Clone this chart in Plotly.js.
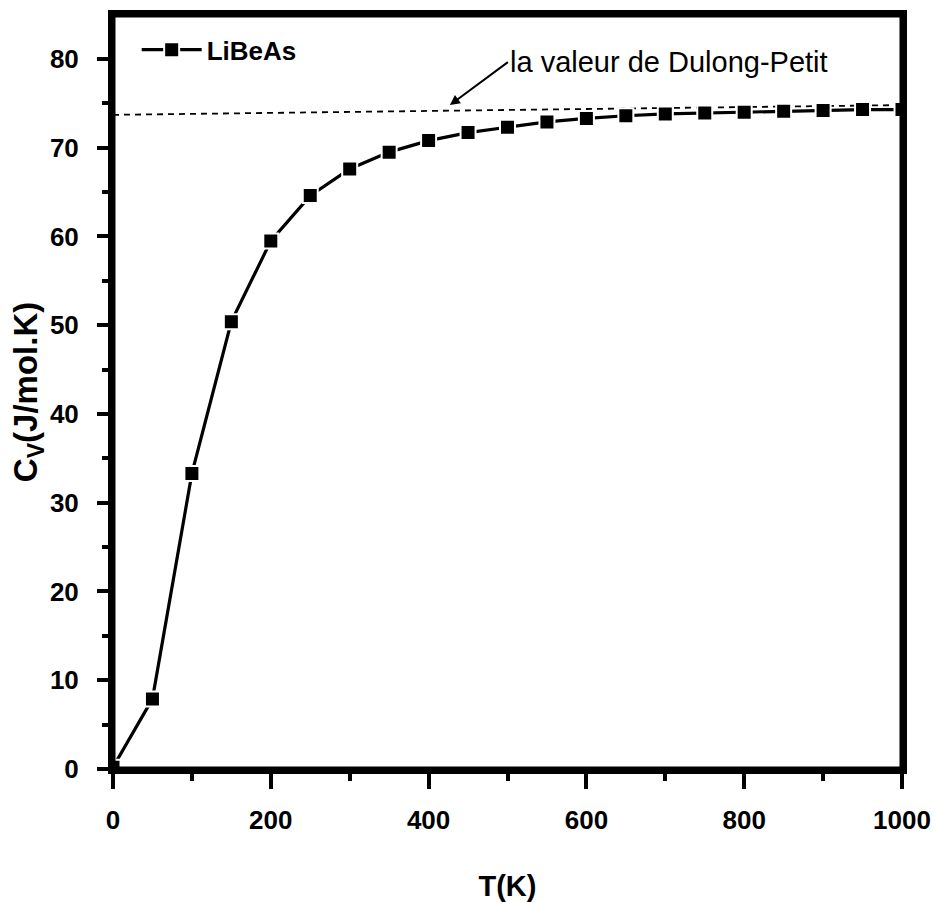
<!DOCTYPE html>
<html>
<head>
<meta charset="utf-8">
<script src="https://cdn.plot.ly/plotly-3.0.1.min.js"></script>
<style>html,body{margin:0;padding:0;background:#fff;}#chart{width:936px;height:902px;}</style>
</head>
<body>
<div id="chart"></div>
<script>
const temperature = [0, 50, 100, 150, 200, 250, 300, 350, 400, 450, 500, 550, 600, 650, 700, 750, 800, 850, 900, 950, 1000];
const cv = [0.2, 7.9, 33.3, 50.4, 59.5, 64.6, 67.6, 69.5, 70.8, 71.7, 72.3, 72.9, 73.3, 73.6, 73.8, 73.9, 74.0, 74.1, 74.2, 74.3, 74.3];
const dulongT = [0, 1000];
const dulongCv = [73.7, 74.8];
const seriesName = "LiBeAs";
const annotationText = "la valeur de Dulong-Petit";
const xTitle = "T(K)";
const yTitle = "C<sub>V</sub>(J/mol.K)";

const FONT = '"Liberation Sans", Arial, sans-serif';

const traces = [
  {
    x: dulongT, y: dulongCv, mode: 'lines', showlegend: false, hoverinfo: 'skip',
    line: {color: '#000', width: 1.8, dash: '6px,5px'}
  },
  {
    x: temperature, y: cv, mode: 'lines+markers', name: seriesName,
    line: {color: '#000', width: 3.2},
    marker: {symbol: 'square', size: 15, color: '#000', line: {color: '#fff', width: 2}}
  }
];

const axisCommon = {
  showline: true, linecolor: '#000', linewidth: 5, mirror: true,
  ticks: 'outside', tickwidth: 4, tickcolor: '#000',
  showgrid: false, zeroline: false,
  tickfont: {family: FONT, size: 26, color: '#000', weight: 'bold'}
};

const layout = {
  width: 936, height: 902,
  margin: {l: 113, r: 34, t: 15, b: 133},
  paper_bgcolor: '#fff', plot_bgcolor: '#fff',
  font: {family: FONT, color: '#000'},
  xaxis: Object.assign({}, axisCommon, {
    range: [0, 1000], dtick: 200, tick0: 0, ticklen: 15,
    minor: {dtick: 100, ticks: 'outside', ticklen: 7, tickwidth: 4, tickcolor: '#000', showgrid: false},
    ticklabelstandoff: 9,
    title: {text: xTitle, font: {family: FONT, size: 29, color: '#000', weight: 'bold'}, standoff: 44}
  }),
  yaxis: Object.assign({}, axisCommon, {
    range: [0, 84.95], dtick: 10, tick0: 0, ticklen: 11,
    minor: {dtick: 5, ticks: 'outside', ticklen: 6, tickwidth: 4, tickcolor: '#000', showgrid: false},
    ticklabelstandoff: 13,
    title: {text: yTitle, font: {family: FONT, size: 33, color: '#000', weight: 'bold'}, standoff: 4}
  }),
  legend: {
    x: 0.03, y: 0.985, xanchor: 'left', yanchor: 'top',
    bgcolor: 'rgba(0,0,0,0)', borderwidth: 0,
    font: {family: FONT, size: 26, color: '#000', weight: 'bold'},
    itemwidth: 60
  },
  shapes: [
    {type: 'rect', xref: 'paper', yref: 'paper', x0: 0, x1: 1, y0: 0, y1: 1,
     line: {color: '#000', width: 5}, fillcolor: 'rgba(0,0,0,0)', layer: 'above'}
  ],
  annotations: [
    {
      x: 427, y: 74.8, xref: 'x', yref: 'y',
      ax: 58, ay: -43, axref: 'pixel', ayref: 'pixel',
      xanchor: 'left', yanchor: 'middle',
      showarrow: true, arrowhead: 2, arrowsize: 1, arrowwidth: 2, arrowcolor: '#000',
      text: annotationText,
      font: {family: FONT, size: 29, color: '#000'}
    }
  ]
};

Plotly.newPlot('chart', traces, layout, {displayModeBar: false, staticPlot: true});
</script>
</body>
</html>
